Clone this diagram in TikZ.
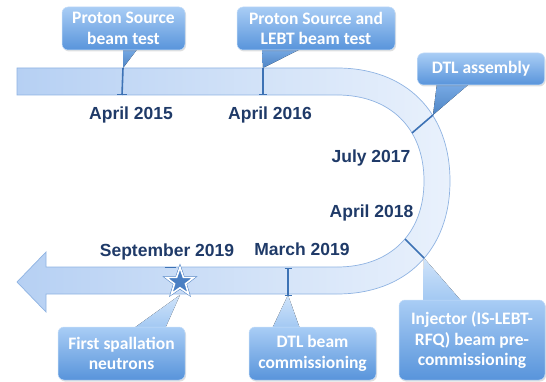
\documentclass[tikz,border=0pt]{standalone}
\usepackage{fontspec}
\setmainfont{Liberation Sans}
\newfontfamily\callfont{Carlito}
\usetikzlibrary{shapes.geometric,shadows}
\definecolor{bandL}{HTML}{B6D0F3}
\definecolor{bandR}{HTML}{E9F1FC}
\definecolor{bandedge}{HTML}{8FB3E2}
\definecolor{tickc}{HTML}{3D72B5}
\definecolor{navy}{HTML}{1F3A68}
\definecolor{boxtop}{HTML}{A9CDF5}
\definecolor{boxbot}{HTML}{5894DB}
\definecolor{starc}{HTML}{4A7FC3}
\pgfdeclarelayer{ptr}
\pgfsetlayers{ptr,main}
\begin{document}
\begin{tikzpicture}[x=1pt,y=-1pt,
  callout/.style={rounded corners=6pt, top color=boxtop, bottom color=boxbot,
    draw=boxtop!70!white, line width=0.5pt, text=white,
    font=\callfont\bfseries\fontsize{17.5}{20.5}\selectfont, align=center, inner sep=0pt,
    drop shadow={opacity=0.25, shadow xshift=1pt, shadow yshift=-1.5pt}},
  ptrdown/.style={top color=boxbot!60!boxtop, bottom color=boxbot!90!black},
  ptrup/.style={top color=boxtop!55!white, bottom color=boxtop!90!boxbot},
  datelabel/.style={font=\bfseries\fontsize{17.5}{20}\selectfont, text=navy, anchor=base, inner sep=0pt},
  tickline/.style={draw=tickc, line width=1.6pt},
  capline/.style={draw=tickc, line width=1pt}]
\useasboundingbox (0,0) rectangle (546,382);

% band
\path[left color=bandL, right color=bandR, draw=bandedge, line width=0.7pt]
  (17,68) -- (337,68) .. controls (406,68) and (450,112) .. (450,181)
  .. controls (450,250) and (406,294) .. (337,294) -- (46,294) -- (46,312)
  -- (17,282) -- (46,252) -- (46,267) -- (337,267)
  .. controls (390,267) and (424,234) .. (424,181)
  .. controls (424,128) and (390,95) .. (337,95) -- (17,95) -- cycle;

% tick coordinates
\coordinate (a15t) at (123,68); \coordinate (a15b) at (122,95);
\coordinate (a16t) at (263,68); \coordinate (a16b) at (263,95);
\coordinate (dtlo) at (433,115); \coordinate (dtli) at (412,133);
\coordinate (injo) at (424,258); \coordinate (inji) at (405,239);
\coordinate (mart) at (288,268); \coordinate (marb) at (288,295);
\coordinate (sept) at (170,267); \coordinate (sepb) at (180,295);

\draw[tickline] (a15t) -- (a15b);
\draw[capline] ([xshift=-5pt]a15b) -- ([xshift=5pt]a15b);
\draw[tickline] (a16t) -- (a16b);
\draw[capline] ([xshift=-4pt]a16b) -- ([xshift=4pt]a16b);
\draw[tickline] (dtlo) -- (dtli);
\draw[tickline] (injo) -- (inji);
\draw[tickline] (mart) -- (marb);
\draw[capline] ([xshift=-3.5pt]mart) -- ([xshift=3.5pt]mart);
\draw[capline] ([xshift=-3.5pt]marb) -- ([xshift=3.5pt]marb);
\draw[capline] ([xshift=-5.5pt]sept) -- ([xshift=5.5pt]sept);

\node[star, star points=5, star point ratio=2.5, minimum size=29pt, inner sep=0pt,
  fill=starc, draw=starc, double=white, double distance=1.6pt, line width=0.5pt] (star) at (180,282) {};

% date labels
\node[datelabel] (d1) at (131,120) {April 2015};
\node[datelabel] (d2) at (270,120) {April 2016};
\node[datelabel] (d3) at (371,163) {July 2017};
\node[datelabel] (d4) at (371.5,218) {April 2018};
\node[datelabel] (d5) at (302,255) {March 2019};
\node[datelabel] (d6) at (167,256) {September 2019};

% callouts
\node[callout, minimum width=123pt, minimum height=43pt] (B1) at (123.5,28.5) {Proton Source\\beam test};
\node[callout, minimum width=158pt, minimum height=43pt] (B2) at (316,28.5) {Proton Source and\\LEBT beam test};
\node[callout, minimum width=127pt, minimum height=32pt] (B3) at (481,69) {DTL assembly};
\node[callout, minimum width=127pt, minimum height=53pt] (B4) at (121.5,353.5) {First spallation\\neutrons};
\node[callout, minimum width=127pt, minimum height=53pt] (B5) at (312.5,353.5) {DTL beam\\commissioning};
\node[callout, minimum width=146pt, minimum height=80pt] (B6) at (472,340) {Injector (IS-LEBT-\\RFQ) beam pre-\\commissioning};

% pointers
\begin{pgfonlayer}{ptr}
\fill[ptrdown] ([xshift=-0.5pt,yshift=2pt]B1.south) -- ([xshift=14.5pt,yshift=2pt]B1.south) -- (a15t) -- cycle;
\fill[ptrdown] ([xshift=-54pt,yshift=2pt]B2.south) -- ([xshift=-14pt,yshift=2pt]B2.south) -- (a16t) -- cycle;
\fill[ptrdown] ([xshift=-44pt,yshift=2pt]B3.south) -- ([xshift=-11pt,yshift=2pt]B3.south) -- (dtlo) -- cycle;
\fill[ptrup] ([xshift=11.5pt,yshift=-2pt]B4.north) -- ([xshift=43.5pt,yshift=-2pt]B4.north) -- (sepb) -- cycle;
\fill[ptrup] ([xshift=-40.5pt,yshift=-2pt]B5.north) -- ([xshift=-12.5pt,yshift=-2pt]B5.north) -- (marb) -- cycle;
\fill[ptrup] ([xshift=-49pt,yshift=-2pt]B6.north) -- ([xshift=-10pt,yshift=-2pt]B6.north) -- (injo) -- cycle;
\end{pgfonlayer}
\end{tikzpicture}
\end{document}
